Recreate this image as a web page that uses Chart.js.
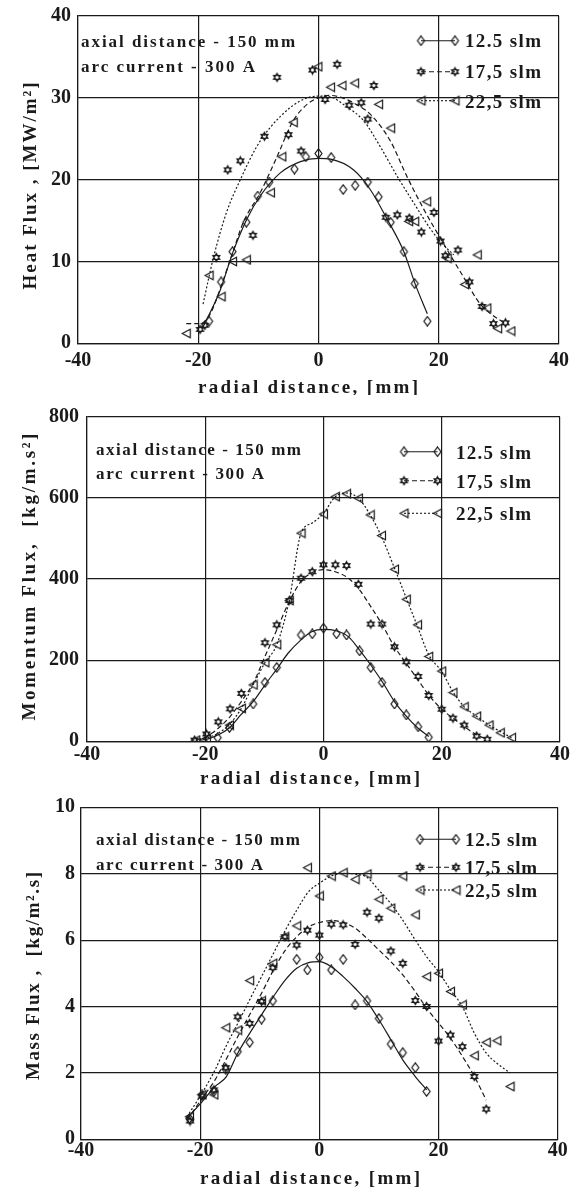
<!DOCTYPE html>
<html>
<head>
<meta charset="utf-8">
<script src="https://cdn.jsdelivr.net/npm/chart.js@4.4.1/dist/chart.umd.min.js"></script>
<style>
  html, body { margin: 0; padding: 0; background: #fff; }
  #wrap { position: relative; width: 578px; height: 1190px; overflow: hidden; }
  canvas { position: absolute; left: 0; }
</style>
</head>
<body>
<div id="wrap">
  <canvas id="heat" width="578" height="395" style="top:0px"></canvas>
  <canvas id="mom" width="578" height="395" style="top:395px"></canvas>
  <canvas id="mass" width="578" height="400" style="top:790px"></canvas>
</div>
<script>
// axes
const xTicks = [-40, -20, 0, 20, 40];
const heatTicks = [0, 10, 20, 30, 40];
const momTicks = [0, 200, 400, 600, 800];
const massTicks = [0, 2, 4, 6, 8, 10];
const seriesNames = ['12.5 slm', '17,5 slm', '22,5 slm'];
const notes = ['axial distance - 150 mm', 'arc current - 300 A'];

// heat flux [MW/m2] : measured points [x, y] and fitted curves
const heat125 = [[-18.2,2.7],[-16.2,7.5],[-14.3,11.2],[-12,14.8],[-10.1,18],[-8.2,19.7],[-4,21.3],[-2.1,22.8],[0,23.2],[2.1,22.7],[4.1,18.8],[6.1,19.3],[8.2,19.7],[10,17.9],[12,14.8],[14.2,11.2],[16,7.3],[18.1,2.7]];
const heat175 = [[-19.7,1.7],[-18.9,2.2],[-17,10.5],[-15.1,21.2],[-13,22.3],[-10.9,13.2],[-9,25.3],[-6.9,32.5],[-5,25.5],[-2.9,23.5],[-1,33.4],[1.1,29.8],[3.1,34.1],[5.1,29.1],[7.1,29.4],[8.2,27.4],[9.2,31.5],[11.2,15.4],[13.1,15.7],[15.1,15.3],[17.1,13.6],[19.2,16],[20.3,12.5],[21.1,10.7],[23.2,11.4],[25.1,7.5],[27.2,4.5],[29.1,2.4],[31.1,2.5]];
const heat225 = [[-22,1.2],[-18.2,8.3],[-16.2,5.7],[-14.3,10],[-12,10.2],[-8,18.4],[-6.1,22.8],[-4.2,27],[-0.1,33.8],[2,31.3],[3.9,31.5],[6,31.8],[10,29.2],[12,26.3],[15,14.9],[16,14.9],[18,17.3],[21.4,10.4],[24.3,7.2],[26.4,10.8],[28,4.3],[29.8,1.8],[32,1.5]];
const heatFit125 = [[-19.2,2],[-16.4,6.4],[-14.2,11.2],[-11.9,15.2],[-9.7,18],[-6.4,20.8],[-3,22.2],[0,22.6],[2,22.5],[5.8,21.2],[8.6,18.8],[11.4,15.2],[14.2,11.2],[16.1,7.2],[18.1,3.6]];
const heatFit175 = [[-22,2.4],[-19.7,2.4],[-18,3.6],[-16.1,7.2],[-14.4,10.8],[-12.5,14.8],[-9.7,18.4],[-6.9,22.8],[-4.2,27.2],[-1.9,29.2],[0,30],[1.8,30.3],[4,30],[6,29.3],[8.6,28],[11.9,24.8],[14.7,20.4],[17.5,16.4],[20.3,12.8],[24.2,8],[26.9,4.8],[31.2,2.3]];
const heatFit225 = [[-19.2,4.8],[-17.5,10.4],[-15.3,16],[-13,20],[-10.3,24],[-8,26.4],[-4.7,28.8],[-1.9,30],[0,30.2],[2,30.1],[4.5,29],[7.5,27.2],[10.3,24],[13.1,20.4],[15.8,17.2],[18.6,14],[20.3,12.4],[22.5,10.8]];

// momentum flux [kg/m.s2]
const mom125 = [[-17.9,9],[-15.9,34],[-11.9,92],[-9.9,145],[-7.9,182],[-3.8,262],[-1.9,265],[0,279],[2.2,265],[3.9,262],[6.1,223],[8,182],[9.9,145],[12,92],[14,65],[16,36],[17.8,10]];
const mom175 = [[-21.8,3],[-19.8,18],[-17.8,48],[-15.8,80],[-13.9,118],[-9.9,243],[-7.9,287],[-5.8,347],[-3.8,402],[-1.9,418],[0,435],[2,435],[3.9,433],[5.9,387],[8,289],[9.9,289],[12,233],[14,196],[16,160],[17.8,113],[20,79],[21.9,57],[23.8,40],[25.9,13],[27.7,5]];
const mom225 = [[-21.6,3],[-19.8,7],[-15.9,40],[-13.9,81],[-11.9,139],[-9.9,194],[-7.9,238],[-5.8,347],[-3.8,513],[0,560],[2,603],[3.9,610],[5.9,599],[7.9,558],[9.8,507],[12,424],[14,350],[15.9,287],[17.8,209],[20,173],[21.9,120],[23.8,85],[25.9,62],[28,40],[29.9,21],[31.8,9]];
const momFit125 = [[-21,2],[-19.5,6],[-17.8,16],[-16,32],[-14,65],[-11.9,98],[-9.7,143],[-7.9,178],[-6,217],[-3.8,250],[-2,270],[0,276],[2,273],[4.2,258],[6.1,225],[8,188],[10.1,143],[12,98],[13.8,65],[16,32],[17.8,12]];
const momFit175 = [[-21.5,3],[-19.8,12],[-17.8,32],[-15.8,61],[-13.9,98],[-11.9,143],[-9.9,209],[-7.9,275],[-5.8,344],[-3.8,394],[-1.9,416],[0,423],[2,418],[4.2,402],[6.1,373],[8,332],[10.1,283],[12,233],[13.8,196],[16,151],[17.8,114],[20,79],[21.9,57],[23.8,36],[25.9,16],[27.7,5]];
const momFit225 = [[-21.6,3],[-19.8,8],[-17.8,20],[-15.9,42],[-13.9,81],[-11.9,139],[-9.9,194],[-7.9,238],[-5.8,347],[-3.8,513],[-1.9,538],[0,562],[2,603],[3.9,612],[5.9,599],[7.9,558],[9.8,505],[12,427],[14,353],[15.9,283],[17.8,213],[20,172],[21.9,122],[23.8,85],[25.9,62],[28,40],[29.9,24],[31.8,9]];

// mass flux [kg/m2.s]
const mass125 = [[-21.8,0.63],[-19.7,1.34],[-17.7,1.44],[-15.7,2.11],[-13.7,2.64],[-11.7,2.92],[-9.7,3.62],[-7.8,4.17],[-3.8,5.42],[-2,5.1],[0,5.48],[2,5.1],[4,5.42],[6,4.05],[8,4.17],[10,3.64],[12,2.87],[14,2.61],[16.1,2.16],[18,1.44]];
const mass175 = [[-21.7,0.55],[-19.7,1.3],[-17.7,1.49],[-15.7,2.16],[-13.7,3.69],[-11.7,3.49],[-9.7,4.15],[-7.8,5.17],[-5.8,6.1],[-3.8,5.85],[-2,6.3],[0,6.15],[2,6.48],[4,6.46],[6,5.87],[8,6.84],[10,6.66],[12,5.67],[14,5.3],[16.1,4.18],[18,4],[20,2.96],[22,3.14],[24,2.79],[26,1.89],[28,0.91]];
const mass225 = [[-21.8,0.68],[-19.7,1.34],[-17.7,1.34],[-15.7,3.36],[-13.7,3.29],[-11.7,4.78],[-9.7,4.17],[-7.8,5.3],[-5.8,6.1],[-3.8,6.43],[-2,8.18],[0,7.33],[2,7.93],[4,8.03],[6,7.83],[8,7.99],[10,7.23],[12,6.96],[14,7.93],[16.1,6.76],[18,4.9],[20,5],[22,4.45],[24,4.05],[26,2.52],[28,2.92],[29.8,2.97],[32,1.59]];
const massFit125 = [[-22.2,0.63],[-19.7,1.13],[-17.5,1.59],[-15.6,1.89],[-13.7,2.59],[-11.7,3.19],[-9.7,3.75],[-7.7,4.3],[-5.7,4.8],[-3.8,5.15],[-1.8,5.32],[0,5.35],[2,5.2],[4,4.9],[6,4.55],[8,4.15],[10,3.6],[12,3],[14,2.39],[16.1,1.89],[18,1.49]];
const massFit175 = [[-22.2,0.58],[-19.7,1.23],[-17.5,1.79],[-15.7,2.39],[-13.7,3.09],[-11.7,3.75],[-9.7,4.4],[-7.7,5.1],[-5.7,5.7],[-3.8,6.1],[-1.8,6.4],[0,6.53],[2,6.59],[4,6.53],[6,6.36],[8,6.05],[10,5.7],[12,5.35],[14,4.95],[16.1,4.45],[18,3.95],[20,3.5],[22,3.05],[24,2.5],[26,1.9],[28,1.18]];
const massFit225 = [[-22.2,0.68],[-19.7,1.39],[-17.5,2.09],[-15.7,2.79],[-13.7,3.49],[-11.7,4.2],[-9.7,4.9],[-7.7,5.6],[-5.7,6.3],[-3.8,6.9],[-1.8,7.46],[0,7.71],[2,7.93],[4,8.01],[6,7.99],[8,7.89],[10,7.5],[12,7.1],[14,6.6],[16.1,6],[18,5.5],[20,5.05],[22,4.5],[24,4],[26,3.2],[28,2.6],[29.8,2.29],[32,2]];

const SERIF = '"Liberation Serif", "Times New Roman", serif';
const INK = '#1a1a1a';
const dashes = [[], [5, 3], [2, 2]];

// small open marker glyphs
function marker(kind) {
  const c = document.createElement('canvas');
  c.width = 11; c.height = 11;
  const g = c.getContext('2d');
  g.strokeStyle = INK;
  g.lineWidth = 1.2;
  g.beginPath();
  if (kind === 'diamond') {
    g.moveTo(5.5, 0.8); g.lineTo(9, 5.5); g.lineTo(5.5, 10.2); g.lineTo(2, 5.5); g.closePath();
  } else if (kind === 'tri') {
    g.moveTo(1.5, 5.5); g.lineTo(9.5, 1.2); g.lineTo(9.5, 9.8); g.closePath();
  } else {
    for (let k = 0; k < 2; k++) {
      for (let j = 0; j < 3; j++) {
        const a = -Math.PI / 2 + k * Math.PI + j * 2 * Math.PI / 3;
        const px = 5.5 + 4 * Math.cos(a), py = 5.5 + 4 * Math.sin(a);
        if (j) g.lineTo(px, py); else g.moveTo(px, py);
      }
      g.closePath();
    }
  }
  g.stroke();
  return c;
}
const markers = [marker('diamond'), marker('hex'), marker('tri')];

function toXY(arr) {
  return arr.map(p => ({ x: p[0], y: p[1] }));
}

// bold serif text stretched to a given width with letter spacing
function spaced(ctx, text, x, y, size, width, align) {
  ctx.font = 'bold ' + size + 'px ' + SERIF;
  ctx.letterSpacing = '0px';
  const w0 = ctx.measureText(text).width;
  const sp = Math.max(0, (width - w0) / (text.length - 1));
  ctx.letterSpacing = sp.toFixed(2) + 'px';
  ctx.textAlign = 'left';
  const x0 = align === 'center' ? x - width / 2 : x;
  ctx.fillText(text, x0, y);
  ctx.letterSpacing = '0px';
}

function panel(id, cfg) {
  const datasets = [];
  cfg.fits.forEach((f, i) => datasets.push({
    data: toXY(f), showLine: true, borderColor: INK, borderWidth: 1.2,
    borderDash: dashes[i], pointRadius: 0, cubicInterpolationMode: 'monotone', fill: false
  }));
  cfg.points.forEach((p, i) => datasets.push({
    data: toXY(p), showLine: false, pointStyle: markers[i], pointRadius: 4
  }));

  const textPlugin = {
    id: 'text_' + id,
    afterDraw(chart) {
      const ctx = chart.ctx;
      ctx.save();
      ctx.fillStyle = INK;
      ctx.textBaseline = 'alphabetic';
      // notes
      notes.forEach((t, i) => spaced(ctx, t, cfg.noteX, cfg.noteY[i], 17, cfg.noteW[i], 'left'));
      // legend
      seriesNames.forEach((name, i) => {
        const ly = cfg.legLineY[i];
        ctx.strokeStyle = INK;
        ctx.lineWidth = 1.1;
        ctx.setLineDash(dashes[i]);
        ctx.beginPath();
        ctx.moveTo(cfg.legX[0], ly);
        ctx.lineTo(cfg.legX[1], ly);
        ctx.stroke();
        ctx.setLineDash([]);
        const m = markers[i];
        ctx.drawImage(m, cfg.legX[0] - m.width / 2, ly - m.height / 2);
        ctx.drawImage(m, cfg.legX[1] - m.width / 2, ly - m.height / 2);
        spaced(ctx, name, cfg.legTextX, cfg.legTextY[i], 19, cfg.legW, 'left');
      });
      // x title
      spaced(ctx, 'radial distance, [mm]', cfg.xtX, cfg.xtY, 19, 220, 'center');
      // y title
      ctx.translate(cfg.ytX, cfg.ytY);
      ctx.rotate(-Math.PI / 2);
      spaced(ctx, cfg.yTitle, 0, 6, 19, cfg.ytW, 'center');
      ctx.restore();
    }
  };

  const tickFont = { family: SERIF, size: 20, weight: 'bold', lineHeight: 0.9 };
  new Chart(document.getElementById(id), {
    type: 'scatter',
    data: { datasets },
    options: {
      responsive: false,
      animation: false,
      events: [],
      layout: { padding: { left: 0, right: cfg.padR, top: cfg.padT, bottom: 0 } },
      plugins: { legend: { display: false }, tooltip: { enabled: false } },
      scales: {
        x: {
          type: 'linear', min: -40, max: 40,
          afterBuildTicks: s => { s.ticks = xTicks.map(v => ({ value: v })); },
          afterFit: s => { s.height = cfg.xAxisH; },
          grid: { color: INK, lineWidth: 1.2, drawTicks: false },
          border: { color: INK, width: 1.2 },
          ticks: { color: INK, font: tickFont, padding: cfg.xTickPad, maxRotation: 0, autoSkip: false }
        },
        y: {
          type: 'linear', min: 0, max: cfg.yTicks[cfg.yTicks.length - 1],
          afterBuildTicks: s => { s.ticks = cfg.yTicks.map(v => ({ value: v })); },
          afterFit: s => { s.width = cfg.left; },
          grid: { color: INK, lineWidth: 1.2, drawTicks: false },
          border: { color: INK, width: 1.2 },
          ticks: { color: INK, font: tickFont, padding: cfg.yTickPad }
        }
      }
    },
    plugins: [textPlugin]
  });
}

panel('heat', {
  points: [heat125, heat175, heat225], fits: [heatFit125, heatFit175, heatFit225],
  yTicks: heatTicks, yTitle: 'Heat Flux , [MW/m\u00b2]',
  left: 78, padR: 18, padT: 9, xAxisH: 51.7, xTickPad: 9, yTickPad: 7,
  noteX: 81, noteY: [46.7, 71.7], noteW: [214, 174],
  legX: [421, 455], legLineY: [40.7, 71.7, 100.7], legTextX: 465, legTextY: [46.7, 78, 107.5], legW: 76,
  xtX: 308, xtY: 393, ytX: 30, ytY: 186, ytW: 207
});

panel('mom', {
  points: [mom125, mom175, mom225], fits: [momFit125, momFit175, momFit225],
  yTicks: momTicks, yTitle: 'Momentum Flux,  [kg/m.s\u00b2]',
  left: 87, padR: 18, padT: 21.7, xAxisH: 48.7, xTickPad: 5, yTickPad: 8,
  noteX: 96, noteY: [60.3, 84.3], noteW: [205, 168],
  legX: [404, 437.5], legLineY: [56.7, 85.7, 118.3], legTextX: 456, legTextY: [63.5, 92.5, 125], legW: 75,
  xtX: 310, xtY: 389, ytX: 29, ytY: 182, ytW: 287
});

panel('mass', {
  points: [mass125, mass175, mass225], fits: [massFit125, massFit175, massFit225],
  yTicks: massTicks, yTitle: 'Mass Flux ,  [kg/m\u00b2.s]',
  left: 81, padR: 20.3, padT: 17.3, xAxisH: 50.7, xTickPad: 3, yTickPad: 6,
  noteX: 96, noteY: [55.3, 80], noteW: [204, 167],
  legX: [420, 456], legLineY: [49.3, 77.3, 100], legTextX: 465, legTextY: [56, 84, 107], legW: 72,
  xtX: 310, xtY: 394, ytX: 33, ytY: 186, ytW: 208
});
</script>
</body>
</html>
